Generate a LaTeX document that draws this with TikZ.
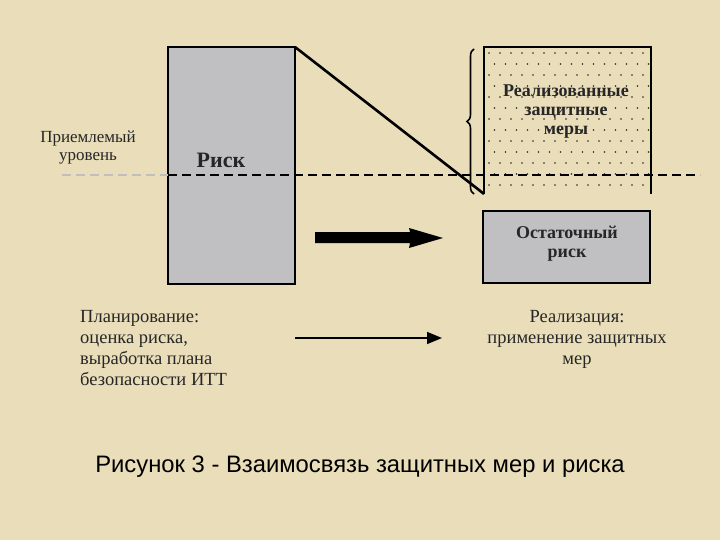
\documentclass[tikz,border=0pt]{standalone}
\usepackage{fontspec}
\setmainfont{Liberation Serif}
\newfontfamily\capfont{Liberation Sans}
\usetikzlibrary{arrows.meta,decorations.pathreplacing}
\definecolor{parch}{RGB}{233,221,186}
\definecolor{boxgray}{RGB}{192,192,194}
\tikzset{
  txt/.style={font=\fontsize{17}{18}\selectfont, inner sep=0pt, align=center, text=black!85},
  btxt/.style={font=\fontsize{18}{19}\selectfont\bfseries, inner sep=0pt, align=center, text=black!85},
  edge/.style={line width=2.6pt, black},
  dashline/.style={line width=2pt, dash pattern=on 9pt off 5pt}
}
\begin{document}
\begin{tikzpicture}[x=1pt,y=-1pt]
\useasboundingbox (0,0) rectangle (720,540);
\fill[parch] (0,0) rectangle (720,540);
% risk box
\draw[edge, fill=boxgray] (168,47) rectangle (295,284);
\coordinate (rtr) at (295,47);
\node[btxt, font=\fontsize{22}{24}\selectfont\bfseries] (risk) at (221,160) {Риск};
% dotted box (realized measures)
\begin{scope}
\clip (484,47) rectangle (651,194);
\foreach \r in {0,...,13} {
  \pgfmathsetmacro{\yy}{53+\r*11}
  \pgfmathsetmacro{\off}{mod(\r,2)*5.5}
  \foreach \c in {0,...,16} {
    \fill[black!85] ({489+\off+\c*11},\yy) circle (0.95pt);
  }
}
\end{scope}
\draw[edge] (484,194) -- (484,47) -- (651,47) -- (651,194);
\coordinate (dbl) at (484,194);
\node[btxt] (real) at (566,112) {Реализованные\\защитные\\меры};
% diagonal line
\draw[edge] (rtr) -- (479,190) -- (dbl);
% brace
\draw[line width=1.6pt, decorate, decoration={brace, amplitude=7pt}] (474,194) -- (474,49);
% dashed acceptable level
\draw[dashline, black!25] (62,175) -- (168,175);
\draw[dashline, black] (168,175) -- (700,175);
\node[txt] (accept) at (88,148) {Приемлемый\\уровень};
% residual risk box
\draw[edge, fill=boxgray] (483,211) rectangle (650,283);
\node[btxt] (resid) at (567,244) {Остаточный\\риск};
% thick arrow
\fill[black] (315,232) -- (410,232) -- (409,228) -- (443,238) -- (409,248) -- (410,243) -- (315,243) -- cycle;
% bottom texts
\node[txt, align=left, anchor=north west, font=\fontsize{18.5}{21}\selectfont] (plan) at (80,310) {Планирование:\\оценка риска,\\выработка плана\\безопасности ИТТ};
\node[txt, anchor=north, font=\fontsize{18.5}{21}\selectfont] (impl) at (577,310) {Реализация:\\применение защитных\\мер};
\draw[line width=1.6pt, -{Triangle[length=15pt,width=12pt]}] (295,338) -- (442,338);
% caption
\node[inner sep=0pt, font=\capfont\fontsize{23.8}{26}\selectfont] (cap) at (360,467) {Рисунок 3 - Взаимосвязь защитных мер и риска};
\end{tikzpicture}
\end{document}
